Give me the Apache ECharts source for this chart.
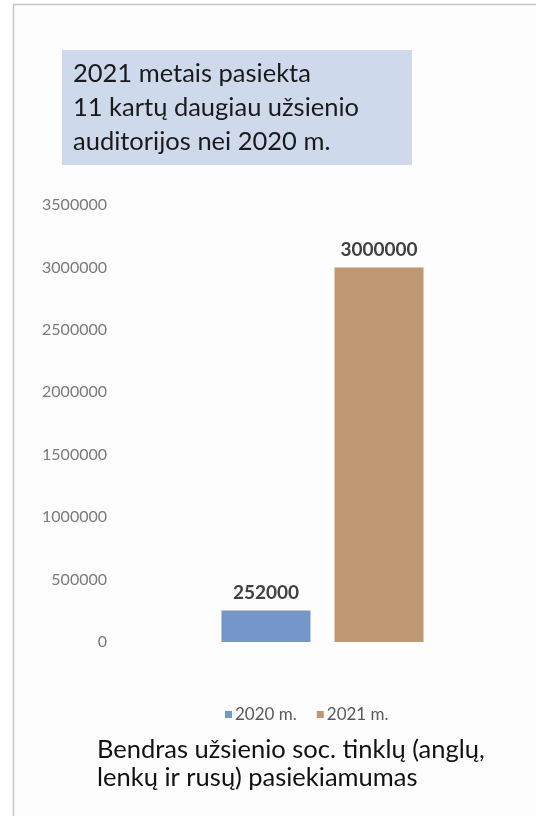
<!DOCTYPE html>
<html><head><meta charset="utf-8">
<script src="https://cdn.jsdelivr.net/npm/echarts@6/dist/echarts.min.js"></script>
<style>html,body{margin:0;padding:0;background:#fff}#c{width:536px;height:816px}</style>
</head><body><div id="c"></div>
<script>
const categories = ['Bendras'];
const seriesNames = ['2020 m.', '2021 m.'];
const values2020 = [252000];
const values2021 = [3000000];
const titleLines = ['2021 metais pasiekta', '11 kartų daugiau užsienio', 'auditorijos nei 2020 m.'];
const captionLines = ['Bendras užsienio soc. tinklų (anglų,', 'lenkų ir rusų) pasiekiamumas'];

const FONT = 'Lato, "Open Sans", sans-serif';
const chart = echarts.init(document.getElementById('c'), null, {renderer: 'canvas'});
chart.setOption({
  backgroundColor: '#ffffff',
  animation: false,
  textStyle: {fontFamily: FONT},
  graphic: [
    {type: 'rect', shape: {x: 13.5, y: 4.5, width: 540, height: 830}, style: {fill: '#fdfdfd', stroke: '#c6c6c6', lineWidth: 1.5}, z: -10},
    {type: 'rect', shape: {x: 62, y: 50, width: 350, height: 115}, style: {fill: '#cfd9ec'}, z: -5},
    {type: 'text', left: 73, top: 57, style: {text: titleLines.join('\n'), font: '25.5px ' + FONT, fill: '#1a1a1a', lineHeight: 34}},
    {type: 'text', left: 97, top: 736, style: {text: captionLines.join('\n'), font: '25.5px ' + FONT, fill: '#111111', lineHeight: 28}}
  ],
  legend: {
    data: seriesNames,
    left: 220, top: 701,
    icon: 'rect', itemWidth: 7, itemHeight: 7, itemGap: 20,
    textStyle: {fontSize: 17, color: '#595959', fontFamily: FONT, padding: [0,0,0,-2]}
  },
  grid: {left: 120, right: 11, top: 205, height: 437},
  xAxis: {
    type: 'category', data: categories,
    axisLine: {show: false}, axisTick: {show: false}, axisLabel: {show: false}, splitLine: {show: false}
  },
  yAxis: {
    type: 'value', min: 0, max: 3500000, interval: 500000,
    axisLine: {show: false}, axisTick: {show: false}, splitLine: {show: false},
    axisLabel: {color: '#7a7a7a', fontSize: 16, margin: 13, fontFamily: FONT, formatter: v => String(v)}
  },
  series: [
    {name: seriesNames[0], type: 'bar', data: values2020, barWidth: 89, barGap: '27%',
     itemStyle: {color: '#7596c9'},
     label: {show: true, position: 'top', distance: 8, fontSize: 19, fontWeight: 'bold', color: '#404040', fontFamily: FONT}},
    {name: seriesNames[1], type: 'bar', data: values2021, barWidth: 89,
     itemStyle: {color: '#bf9873'},
     label: {show: true, position: 'top', distance: 8, fontSize: 19, fontWeight: 'bold', color: '#404040', fontFamily: FONT}}
  ]
});
</script></body></html>
